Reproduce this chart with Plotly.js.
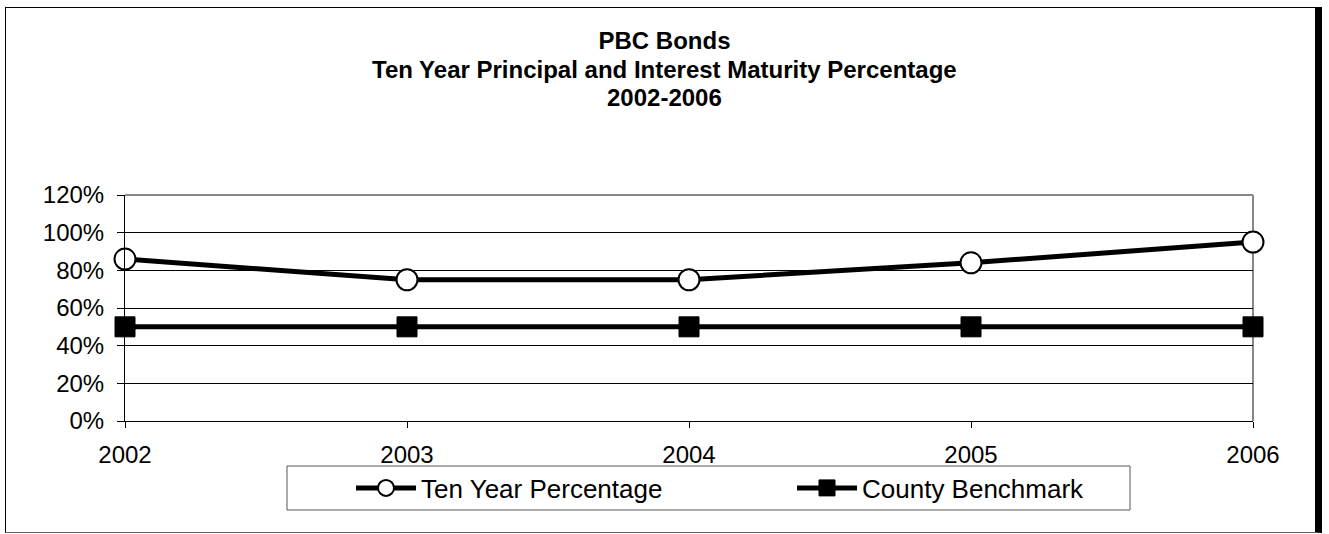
<!DOCTYPE html>
<html>
<head>
<meta charset="utf-8">
<script src="https://cdn.plot.ly/plotly-3.0.1.min.js"></script>
<style>
  html, body { margin: 0; padding: 0; background: #fff; }
  #wrap { position: relative; width: 1329px; height: 534px; }
  #chart { position: absolute; left: 0; top: 0; width: 1329px; height: 534px; }
  #frame {
    position: absolute; left: 5px; top: 7px; width: 1317px; height: 526px;
    box-sizing: border-box; pointer-events: none;
    border-left: 1px solid #000; border-top: 1px solid #000;
    border-bottom: 1px solid #666; border-right: 7px solid #000;
  }
</style>
</head>
<body>
<div id="wrap">
  <div id="chart"></div>
  <div id="frame"></div>
</div>
<script>
// Fiscal years on the category axis
const years = [2002, 2003, 2004, 2005, 2006];
// Share of principal and interest maturing within ten years
const tenYearPct = [0.86, 0.75, 0.75, 0.84, 0.95];
// County policy benchmark
const benchmark = [0.50, 0.50, 0.50, 0.50, 0.50];
// Y axis tick values and labels
const yTicks = [0, 0.2, 0.4, 0.6, 0.8, 1.0, 1.2];
const yTickLabels = ['0%', '20%', '40%', '60%', '80%', '100%', '120%'];
// Title lines
const titleLines = ['PBC Bonds', 'Ten Year Principal and Interest Maturity Percentage', '2002-2006'];

const FONT = 'Liberation Sans, Arial, sans-serif';
const TITLE_SIZE = 24;

const traces = [
  {
    x: years, y: tenYearPct, name: 'Ten Year Percentage',
    type: 'scatter', mode: 'lines+markers', cliponaxis: false,
    line: { color: '#000', width: 5 },
    marker: { symbol: 'circle', size: 21, color: '#fff', line: { color: '#000', width: 2 } }
  },
  {
    x: years, y: benchmark, name: 'County Benchmark',
    type: 'scatter', mode: 'lines+markers', cliponaxis: false,
    line: { color: '#000', width: 5 },
    marker: { symbol: 'square', size: 20, color: '#000', line: { color: '#000', width: 1 } }
  }
];

// second and third title lines sit at a tighter line pitch than the title block allows
const subtitleAnnotations = titleLines.slice(1).map((t, i) => ({
  text: '<b>' + t + '</b>',
  xref: 'paper', yref: 'paper', x: (664 - 125) / 1128, xanchor: 'center',
  y: (421 - (69 + 28 * i)) / 226, yanchor: 'middle',
  showarrow: false,
  font: { family: FONT, size: TITLE_SIZE, color: '#000' }
}));

const layout = {
  width: 1329, height: 534,
  margin: { l: 125, r: 76, t: 195, b: 113 },
  paper_bgcolor: '#fff', plot_bgcolor: '#fff',
  font: { family: FONT, color: '#000', size: 24 },
  title: {
    text: '<b>' + titleLines[0] + '</b>',
    font: { family: FONT, size: TITLE_SIZE, color: '#000' },
    x: 0.5, xanchor: 'center', xref: 'container',
    y: 1 - 41 / 534, yanchor: 'middle', yref: 'container'
  },
  annotations: subtitleAnnotations,
  xaxis: {
    type: 'linear', range: [2002, 2006],
    tickvals: years, ticktext: years.map(String),
    showgrid: false, zeroline: false,
    showline: true, linecolor: '#000', linewidth: 1,
    ticks: 'outside', ticklen: 6, tickcolor: '#000', tickwidth: 1,
    ticklabelstandoff: 6,
    tickfont: { family: FONT, size: 24, color: '#000' }
  },
  yaxis: {
    range: [0, 1.2],
    tickvals: yTicks, ticktext: yTickLabels,
    showgrid: true, gridcolor: '#000', gridwidth: 1,
    zeroline: false,
    showline: true, linecolor: '#000', linewidth: 1,
    ticks: 'outside', ticklen: 7, tickcolor: '#000', tickwidth: 1,
    ticklabelstandoff: 8,
    tickfont: { family: FONT, size: 24, color: '#000' }
  },
  shapes: [
    // plot area border: grey top and right edges
    { type: 'line', xref: 'paper', yref: 'paper', x0: 0, x1: 1, y0: 1, y1: 1,
      line: { color: '#888', width: 2 }, layer: 'between' },
    { type: 'line', xref: 'paper', yref: 'paper', x0: 1, x1: 1, y0: 0, y1: 1,
      line: { color: '#888', width: 2 }, layer: 'between' },
    // legend box
    { type: 'rect', xref: 'paper', yref: 'paper',
      x0: (287 - 125) / 1128, x1: (1130 - 125) / 1128,
      y0: (421 - 466) / 226, y1: (421 - 510) / 226,
      line: { color: '#555', width: 1 }, fillcolor: '#fff', layer: 'below' }
  ],
  showlegend: true,
  legend: {
    orientation: 'h', x: (351 - 125) / 1128, xanchor: 'left',
    y: (421 - 488) / 226, yanchor: 'middle',
    bgcolor: 'rgba(0,0,0,0)', borderwidth: 0,
    font: { family: FONT, size: 26, color: '#000' },
    itemwidth: 60, entrywidth: 366, traceorder: 'normal'
  }
};

Plotly.newPlot('chart', traces, layout, { displayModeBar: false, staticPlot: true });
</script>
</body>
</html>
